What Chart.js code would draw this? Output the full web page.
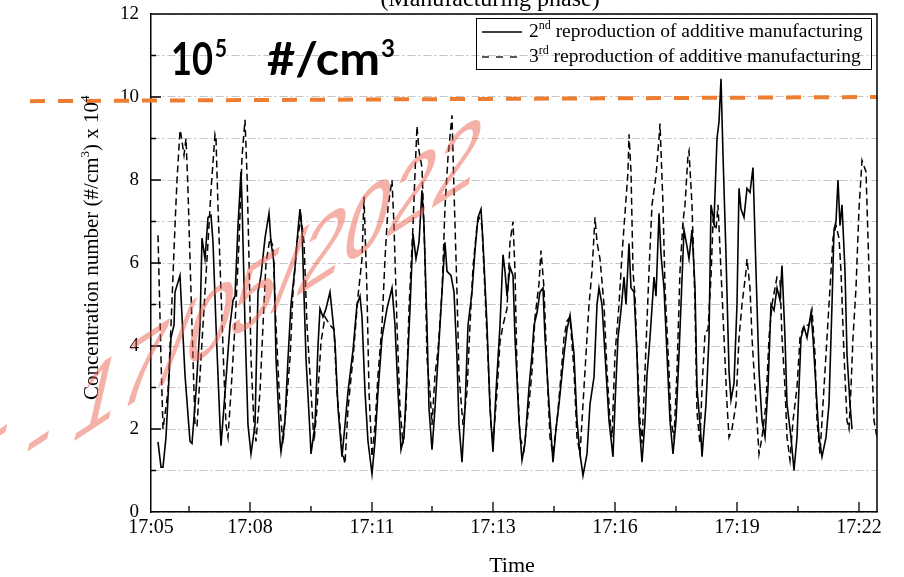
<!DOCTYPE html>
<html>
<head>
<meta charset="utf-8">
<script src="https://cdn.jsdelivr.net/npm/chart.js@4.4.1/dist/chart.umd.min.js"></script>
<style>
  html, body { margin: 0; padding: 0; background: #fff; }
  #wrap { width: 904px; height: 577px; }
</style>
</head>
<body>
<div id="wrap"><canvas id="conc"></canvas></div>
<script>
// time axis: sample index (0 = 17:05)
const tickPos = [0, 99, 221, 342, 464, 586, 708];
const tickLabels = ['17:05', '17:08', '17:11', '17:13', '17:16', '17:19', '17:22'];
const minorPos = [38, 160, 281, 403, 525, 647];

// 2nd reproduction (solid)
const tSolid = [7,10,12,15,20,23,24,29,30,34,39,41,45,49,51,54,57,60,62,65,69,70,75,79,82,84,87,90,91,94,97,100,
  104,107,110,114,118,120,123,125,129,130,134,137,140,144,147,149,151,155,159,160,164,167,169,172,175,179,182,184,
  187,191,194,197,202,206,209,211,214,217,221,224,227,231,236,241,244,247,250,253,256,259,262,265,268,271,273,276,
  278,281,284,287,291,294,296,300,303,306,308,311,314,317,321,324,327,330,332,336,339,342,345,349,352,354,356,359,
  362,364,368,371,374,378,381,383,386,389,392,394,398,402,405,408,413,416,419,423,426,429,432,436,439,443,446,448,
  451,454,458,462,464,467,470,473,475,478,480,483,486,488,491,494,496,499,503,505,508,510,513,516,519,522,525,528,
  530,533,536,538,541,544,546,550,551,555,558,560,563,566,568,570,572,575,578,580,583,586,588,590,593,596,599,602,
  605,608,611,614,617,620,623,626,629,631,634,636,640,643,646,650,653,656,660,662,665,668,671,675,678,681,683,685,
  687,689,691,694,696,699,701];
const cSolid = [1.69,1.08,1.08,1.8,4.2,4.5,5.3,5.7,5.2,3.3,1.7,1.65,2.9,4.5,6.6,6.1,7.1,7.15,6.5,4.5,2.1,1.6,3.2,4.5,5.1,5.2,6.9,8.2,7.5,4.5,2.1,1.4,
  2.1,5.3,5.7,6.6,7.2,6.5,6.0,3.7,1.7,1.45,2.2,3.7,5.0,5.9,6.8,7.3,6.8,3.7,1.9,1.4,2.1,4.0,4.9,4.7,4.9,5.3,4.6,4.1,
  2.5,1.33,2.1,2.9,3.9,5.0,5.2,4.7,2.9,1.7,0.92,1.7,2.9,4.2,4.9,5.4,4.5,2.9,1.5,1.8,3.3,4.9,6.7,6.1,6.5,7.75,6.9,4.5,
  2.5,1.5,2.5,3.7,5.3,6.5,5.8,5.7,5.3,3.7,2.1,1.2,2.5,4.5,5.3,6.3,7.1,7.3,6.5,4.5,2.5,1.45,2.9,4.5,6.2,5.8,5.2,5.9,
  5.7,4.2,2.2,1.25,1.65,3.0,3.8,4.5,4.8,5.3,5.4,4.2,2.6,1.2,2.0,2.6,3.8,4.4,4.74,3.8,2.2,1.4,0.88,1.4,2.6,3.25,5.0,5.4,
  5.0,3.8,2.2,1.33,2.6,4.2,4.86,5.66,5.0,6.47,5.4,5.3,3.8,2.2,1.2,2.2,3.3,4.2,5.66,5.2,7.2,6.2,5.4,3.8,2.2,1.4,2.2,3.8,
  5.0,6.8,6.4,6.1,6.8,5.4,3.0,1.8,1.33,2.6,4.2,7.4,7.0,9.0,9.4,10.44,8.6,6.2,3.4,2.7,3.1,5.0,7.8,7.3,7.1,7.8,7.7,8.3,
  5.8,3.4,2.2,1.8,3.0,5.0,4.86,5.4,5.1,5.94,4.2,2.6,1.8,1.0,1.8,4.2,4.46,4.2,4.8,4.2,3.0,1.8,1.33,1.8,2.6,5.0,6.8,7.0,
  8.0,6.9,7.4,5.8,3.8,2.6,2.0];

// 3rd reproduction (dashed)
const tDashed = [7,10,12,17,20,24,26,29,30,33,35,37,39,42,44,46,49,52,57,60,64,65,67,70,73,75,77,80,84,88,91,94,96,98,
  100,103,105,109,112,115,119,122,125,129,132,135,139,142,146,150,153,156,160,163,166,170,174,179,183,186,191,194,
  197,202,207,211,213,216,218,221,224,227,231,234,237,241,243,246,249,252,255,258,262,264,266,268,271,274,276,279,
  281,284,287,291,294,297,301,303,306,308,312,316,319,322,326,328,331,334,337,340,342,346,349,352,356,359,362,364,
  366,369,373,378,381,384,388,390,393,396,399,402,406,409,413,416,419,423,426,429,434,438,441,444,446,449,453,456,
  459,461,464,468,471,474,477,478,480,482,484,486,489,491,494,498,501,505,508,509,512,514,518,520,523,526,529,532,
  534,537,538,541,544,546,549,551,554,557,560,562,565,567,570,573,576,578,581,585,588,591,595,596,599,601,605,608,
  611,615,618,621,626,629,631,634,636,639,642,646,649,653,658,661,664,666,669,672,676,679,682,685,688,690,693,696,
  698,700,702,705,708,711,715,717,720,723,726];
const cDashed = [6.67,3.7,2.0,2.9,4.5,6.9,8.0,9.2,9.1,8.6,9.0,7.75,6.1,3.7,2.1,2.05,3.3,4.5,6.5,7.75,9.1,9.0,7.35,5.3,3.3,2.1,1.8,2.9,4.5,6.5,8.55,9.45,8.15,6.1,
  3.7,2.1,1.7,2.9,4.5,6.0,6.6,6.4,4.5,2.5,1.65,2.5,3.7,5.3,6.5,7.1,6.5,4.5,2.9,1.7,2.5,4.1,4.7,4.5,4.4,2.9,1.5,1.16,
  2.5,3.7,5.2,6.1,7.6,5.3,2.9,1.33,2.1,3.3,4.5,6.1,7.35,8.0,6.9,4.5,2.5,1.65,2.5,4.9,6.9,8.15,9.3,8.7,8.3,6.1,3.7,2.9,
  2.1,3.3,3.9,5.3,7.35,8.55,9.56,7.75,5.3,3.3,2.1,2.9,4.5,5.9,6.9,7.1,6.9,5.3,3.7,2.1,1.65,2.9,4.1,4.5,4.9,6.5,7.0,5.8,
  3.4,1.8,1.5,2.6,3.4,4.7,5.5,6.3,5.4,3.4,1.8,1.4,2.2,3.0,4.2,4.6,4.7,3.4,1.8,1.4,3.4,5.0,5.8,7.1,6.5,6.1,5.0,3.4,
  2.2,1.8,3.8,5.0,6.2,7.2,8.2,9.1,8.2,5.8,5.2,3.8,2.2,1.65,3.4,5.8,7.4,8.1,9.0,9.36,7.4,5.4,3.4,2.2,1.8,3.4,5.8,7.0,
  7.4,8.6,8.7,7.4,5.0,2.4,1.65,3.0,4.3,4.4,5.66,7.0,6.8,7.4,5.8,4.2,2.6,1.8,2.0,2.6,4.2,5.0,5.8,6.1,5.4,4.2,2.6,1.4,
  1.8,2.6,4.2,5.0,5.66,5.6,4.2,3.0,1.8,1.25,2.2,3.0,4.2,4.5,4.5,4.86,3.8,2.2,1.4,2.6,4.2,5.4,6.6,6.9,6.6,5.8,3.8,2.2,
  2.0,3.0,4.2,5.4,7.3,8.47,8.2,6.6,4.2,2.2,1.8];

// orange reference line drawn over the figure (starts left of the axis)
const refT = [-121, 726];
const refC = [9.9, 10.0];

const serif = '"Liberation Serif", "Times New Roman", serif';

function pts(t, c) { return t.map((v, i) => ({x: v, y: c[i]})); }

// text with raised parts: [text, size, raise]
function rich(ctx, parts, x, y, family) {
  let cx = x;
  parts.forEach(p => {
    ctx.font = p[1] + 'px ' + family;
    ctx.fillText(p[0], cx, y - (p[2] || 0));
    cx += ctx.measureText(p[0]).width;
  });
  return cx;
}

// squeeze or stretch a word to a given width
function fitText(ctx, s, x, y, w) {
  const m = ctx.measureText(s).width;
  ctx.save();
  ctx.translate(x, y);
  ctx.scale(w / m, 1);
  ctx.fillText(s, 0, 0);
  ctx.restore();
}

const overlay = {
  id: 'overlay',
  afterDraw(chart) {
    const ctx = chart.ctx, a = chart.chartArea;
    const xs = chart.scales.x, ys = chart.scales.y;
    ctx.save();
    ctx.setLineDash([]);
    ctx.strokeStyle = '#000';
    ctx.lineWidth = 1.5;
    ctx.beginPath();
    ctx.moveTo(a.left, a.top); ctx.lineTo(a.right, a.top); ctx.lineTo(a.right, a.bottom);
    ctx.stroke();

    // inward tick marks
    ctx.lineWidth = 1.3;
    ctx.beginPath();
    for (let v = 1; v < 12; v++) {
      const y = ys.getPixelForValue(v);
      ctx.moveTo(a.left, y); ctx.lineTo(a.left + (v % 2 ? 5 : 10), y);
    }
    tickPos.forEach(t => {
      if (t <= 0) return;
      const x = xs.getPixelForValue(t);
      ctx.moveTo(x, a.bottom); ctx.lineTo(x, a.bottom - 10);
    });
    minorPos.forEach(t => {
      const x = xs.getPixelForValue(t);
      ctx.moveTo(x, a.bottom); ctx.lineTo(x, a.bottom - 6);
    });
    ctx.stroke();

    ctx.fillStyle = '#000';
    ctx.textBaseline = 'alphabetic';
    // title, cut at the top of the image
    ctx.textAlign = 'center';
    ctx.font = '24px ' + serif;
    ctx.fillText('(Manufacturing phase)', 490, 6);
    ctx.font = '22px ' + serif;
    ctx.fillText('Time', 512, 572);

    // y axis title
    ctx.textAlign = 'left';
    ctx.save();
    ctx.translate(98, 400);
    ctx.rotate(-Math.PI / 2);
    rich(ctx, [['Concentration number (#/cm', 21], ['3', 13, 9], [') x 10', 21], ['4', 13, 9]], 0, 0, serif);
    ctx.restore();

    // legend box
    ctx.lineWidth = 1;
    ctx.strokeRect(476.5, 18.5, 395, 51);
    ctx.lineWidth = 1.3;
    ctx.beginPath(); ctx.moveTo(482, 32); ctx.lineTo(522, 32); ctx.stroke();
    ctx.setLineDash([7, 7]);
    ctx.beginPath(); ctx.moveTo(482, 57); ctx.lineTo(522, 57); ctx.stroke();
    ctx.setLineDash([]);
    rich(ctx, [['2', 19.5], ['nd', 12, 8], [' reproduction of additive manufacturing', 19.5]], 529, 37, serif);
    rich(ctx, [['3', 19.5], ['rd', 12, 8], [' reproduction of additive manufacturing', 19.5]], 529, 62, serif);

    // unit note
    const bold = '"Lato", "Open Sans", sans-serif';
    ctx.font = 'bold 46px ' + bold;
    fitText(ctx, '10', 171, 75, 42);
    fitText(ctx, '#/cm', 267, 75, 113);
    ctx.font = 'bold 25px ' + bold;
    fitText(ctx, '5', 215, 57, 12);
    fitText(ctx, '3', 381, 57, 14);

    // date stamp
    ctx.save();
    ctx.setTransform(0.86, -0.56, -0.25, 1.1, 68, 445);
    ctx.font = '94px "Liberation Sans", Arial, sans-serif';
    ctx.fillStyle = 'rgba(235, 100, 80, 0.5)';
    const pre = 'E - ';
    const w = ctx.measureText(pre).width;
    ctx.fillText(pre + '17/05/2022', -w, 0);
    ctx.restore();
    ctx.restore();
  }
};

new Chart(document.getElementById('conc').getContext('2d'), {
  type: 'line',
  data: {
    datasets: [
      {
        label: '2nd reproduction of additive manufacturing',
        data: pts(tSolid, cSolid),
        borderColor: '#000',
        borderWidth: 1.6,
        pointRadius: 0,
        tension: 0,
        order: 2
      },
      {
        label: '3rd reproduction of additive manufacturing',
        data: pts(tDashed, cDashed),
        borderColor: '#000',
        borderWidth: 1.5,
        borderDash: [7, 4],
        pointRadius: 0,
        tension: 0,
        order: 3
      },
      {
        label: 'limit',
        data: pts(refT, refC),
        borderColor: '#ED7D31',
        borderWidth: 4,
        borderDash: [15, 13],
        pointRadius: 0,
        clip: false,
        order: 1
      }
    ]
  },
  options: {
    responsive: true,
    maintainAspectRatio: false,
    animation: false,
    events: [],
    layout: { autoPadding: false, padding: { top: 14, right: 27, left: 0, bottom: 0 } },
    plugins: { legend: { display: false }, title: { display: false }, tooltip: { enabled: false } },
    scales: {
      x: {
        type: 'linear',
        min: 0,
        max: 726,
        afterFit(s) { s.height = 65; s.paddingLeft = 0; s.paddingRight = 0; },
        afterBuildTicks(s) { s.ticks = tickPos.map(v => ({ value: v })); },
        grid: { display: false, drawTicks: false },
        border: { display: true, color: '#000', width: 1.5 },
        ticks: {
          autoSkip: false,
          maxRotation: 0,
          padding: 4,
          color: '#000',
          font: { family: serif, size: 20 },
          callback: (v, i) => tickLabels[i]
        }
      },
      y: {
        min: 0,
        max: 12,
        afterFit(s) { s.width = 151; s.paddingTop = 0; s.paddingBottom = 0; },
        grid: { color: '#c4c4c4', lineWidth: 1, drawTicks: false },
        border: { display: true, color: '#000', width: 1.5, dash: [8, 3, 2, 3] },
        ticks: {
          stepSize: 1,
          padding: 12,
          color: '#000',
          font: { family: serif, size: 19 },
          callback: v => (v % 2 === 0 ? v : '')
        }
      }
    }
  },
  plugins: [overlay]
});
</script>
</body>
</html>
